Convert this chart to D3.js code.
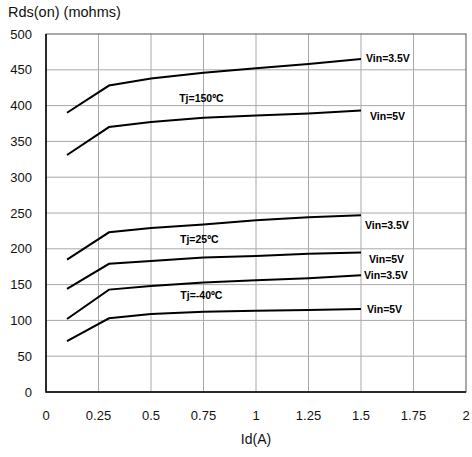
<!DOCTYPE html>
<html>
<head>
<meta charset="utf-8">
<script src="https://cdn.jsdelivr.net/npm/d3@7"></script>
<style>
  body { margin: 0; background: #fff; }
  svg { display: block; font-family: "Liberation Sans", Arial, sans-serif; }
</style>
</head>
<body>
<svg width="472" height="457"></svg>
<script>
    // Id(A) sample points
    const idA = [0.1, 0.3, 0.5, 0.75, 1.0, 1.25, 1.5];

    // Rds(on) in mohms
    const t150v35 = [390, 428, 438, 446, 452, 458, 465];
    const t150v5 = [331, 370, 377, 383, 386, 389, 393];
    const t25v35 = [185, 223, 229, 234, 240, 244, 247];
    const t25v5 = [144, 179, 183, 188, 190, 193, 195];
    const tm40v35 = [102, 143, 148, 153, 156, 159, 163];
    const tm40v5 = [71, 103, 109, 112, 113.5, 114.5, 116];

    const seriesList = [t150v35, t150v5, t25v35, t25v5, tm40v35, tm40v5];
    const vinLabels = ['Vin=3.5V', 'Vin=5V', 'Vin=3.5V', 'Vin=5V', 'Vin=3.5V', 'Vin=5V'];

    const tempLabels = ['Tj=150ºC', 'Tj=25ºC', 'Tj=-40ºC'];

    const xTicks = [0, 0.25, 0.5, 0.75, 1, 1.25, 1.5, 1.75, 2];
    const yTicks = [0, 50, 100, 150, 200, 250, 300, 350, 400, 450, 500];

(function (d3) {
    'use strict';

    // label offsets from the line end (px)
    const vinOffsets = [[5, 3], [9, 9.5], [4, 14], [8, 11], [3, 4], [6, 4]];
    const tempPos = [[0.74, 405], [0.73, 208], [0.74, 130]];

    const svg = d3.select('svg');
    const m = { left: 46, right: 466, top: 34, bottom: 392 };

    const x = d3.scaleLinear().domain([0, 2]).range([m.left, m.right]);
    const y = d3.scaleLinear().domain([0, 500]).range([m.bottom, m.top]);

    // grid
    svg.append('g').selectAll('line')
        .data(xTicks.slice(1, -1))
        .enter().append('line')
        .attr('x1', d => x(d)).attr('x2', d => x(d))
        .attr('y1', m.top).attr('y2', m.bottom)
        .attr('stroke', '#a8a8a8').attr('stroke-width', 1);

    svg.append('g').selectAll('line')
        .data(yTicks.slice(1, -1))
        .enter().append('line')
        .attr('x1', m.left).attr('x2', m.right)
        .attr('y1', d => y(d)).attr('y2', d => y(d))
        .attr('stroke', '#a8a8a8').attr('stroke-width', 1);

    // frame
    svg.append('rect')
        .attr('x', m.left).attr('y', m.top)
        .attr('width', m.right - m.left).attr('height', m.bottom - m.top)
        .attr('fill', 'none').attr('stroke', '#555').attr('stroke-width', 1);
    svg.append('path')
        .attr('d', `M${m.left},${m.top}V${m.bottom}H${m.right}`)
        .attr('fill', 'none').attr('stroke', '#000').attr('stroke-width', 1.5);

    // tick labels
    svg.append('g').selectAll('text')
        .data(yTicks)
        .enter().append('text')
        .attr('x', 32)
        .attr('y', d => y(d) + 4.5)
        .attr('text-anchor', 'end')
        .style('font-size', '13px')
        .attr('fill', '#111')
        .text(d => d);

    svg.append('g').selectAll('text')
        .data(xTicks)
        .enter().append('text')
        .attr('x', d => x(d))
        .attr('y', 420)
        .attr('text-anchor', 'middle')
        .style('font-size', '13px')
        .attr('fill', '#111')
        .text(d => d);

    svg.append('text')
        .attr('x', 256).attr('y', 444)
        .attr('text-anchor', 'middle')
        .style('font-size', '14px')
        .attr('fill', '#111')
        .text('Id(A)');

    svg.append('text')
        .attr('x', 8).attr('y', 17)
        .style('font-size', '14.5px')
        .attr('fill', '#111')
        .text('Rds(on) (mohms)');

    // curves
    const line = d3.line()
        .x((d, i) => x(idA[i]))
        .y(d => y(d));

    svg.append('g').selectAll('path')
        .data(seriesList)
        .enter().append('path')
        .attr('d', line)
        .attr('fill', 'none')
        .attr('stroke', '#000')
        .attr('stroke-width', 2);

    svg.append('g').selectAll('text')
        .data(seriesList)
        .enter().append('text')
        .attr('x', (d, i) => x(1.5) + vinOffsets[i][0])
        .attr('y', (d, i) => y(d[d.length - 1]) + vinOffsets[i][1])
        .style('font-size', '10.5px')
        .style('font-weight', 'bold')
        .text((d, i) => vinLabels[i]);

    svg.append('g').selectAll('text')
        .data(tempLabels)
        .enter().append('text')
        .attr('x', (d, i) => x(tempPos[i][0]))
        .attr('y', (d, i) => y(tempPos[i][1]))
        .attr('text-anchor', 'middle')
        .style('font-size', '10.5px')
        .style('font-weight', 'bold')
        .text(d => d);

}(d3));
</script>
</body>
</html>
